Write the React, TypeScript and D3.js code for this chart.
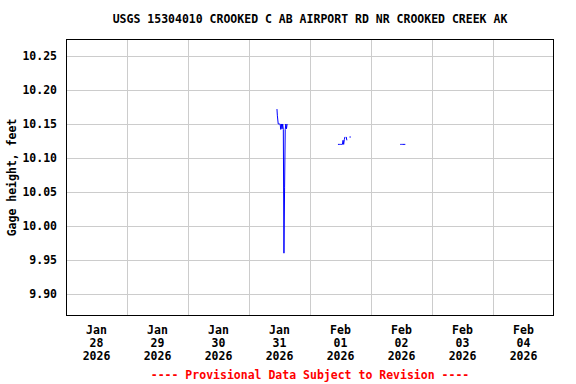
import React from "react";
import * as d3 from "d3";

const TITLE = "USGS 15304010 CROOKED C AB AIRPORT RD NR CROOKED CREEK AK";
const Y_LABEL = "Gage height, feet";
const FOOTER = "---- Provisional Data Subject to Revision ----";

const yTicks = [9.9, 9.95, 10.0, 10.05, 10.1, 10.15, 10.2, 10.25];
const xTickDays = ["2026-01-28", "2026-01-29", "2026-01-30", "2026-01-31", "2026-02-01", "2026-02-02", "2026-02-03", "2026-02-04"];
const xTickMonths = ["Jan", "Jan", "Jan", "Jan", "Feb", "Feb", "Feb", "Feb"];
const xTickDayNums = ["28", "29", "30", "31", "01", "02", "03", "04"];
const xTickYears = ["2026", "2026", "2026", "2026", "2026", "2026", "2026", "2026"];

// gage height observations (null = gap)
const obsTimes = [
  "2026-01-31 11:00", "2026-01-31 11:10", "2026-01-31 11:30", "2026-01-31 11:45",
  "2026-01-31 12:00", "2026-01-31 12:15", "2026-01-31 12:30", "2026-01-31 12:45",
  "2026-01-31 13:00", "2026-01-31 13:15", "2026-01-31 13:30", "2026-01-31 13:45",
  "2026-01-31 14:00", "2026-01-31 14:15", "2026-01-31 14:30", "2026-01-31 14:45",
  "2026-01-31 15:00", "2026-01-31 15:15",
  "2026-02-01 11:00", "2026-02-01 11:30", "2026-02-01 12:00", "2026-02-01 12:30",
  "2026-02-01 12:45", "2026-02-01 13:00", "2026-02-01 13:15", "2026-02-01 13:30",
  "2026-02-01 13:45", "2026-02-01 14:00", "2026-02-01 14:15", "2026-02-01 14:30",
  "2026-02-01 14:45", "2026-02-01 15:45", "2026-02-01 16:00",
  "2026-02-02 11:30", "2026-02-02 12:00", "2026-02-02 12:30", "2026-02-02 13:00", "2026-02-02 13:30",
];
const obsValues: (number | null)[] = [
  10.172, 10.162, 10.15, 10.15,
  10.15, 10.15, 10.142, 10.15,
  10.143, 10.15, 10.142, 9.96,
  10.056, 10.142, 10.15, 10.143,
  10.15, null,
  10.12, 10.12, 10.12, 10.12,
  10.12, 10.126, 10.12, 10.127,
  10.131, null, 10.131, 10.126,
  null, 10.131, null,
  10.12, 10.12, 10.12, 10.12, 10.12,
];

const W = 576, H = 384;
const M = { left: 66, right: 554, top: 39, bottom: 316 };
const FONT = "'DejaVu Sans Mono', monospace";

export default function App() {
  const parse = d3.timeParse("%Y-%m-%d %H:%M");
  const pDay = d3.timeParse("%Y-%m-%d");
  const x = d3.scaleTime()
    .domain([pDay("2026-01-28")!, pDay("2026-02-05")!])
    .range([M.left, M.right]);
  const y = d3.scaleLinear().domain([9.8676, 10.275]).range([M.bottom, M.top]);

  const pts = obsTimes.map((t, i) => ({ t: parse(t)!, v: obsValues[i] }));
  const line = d3.line<{ t: Date; v: number | null }>()
    .defined((d) => d.v !== null)
    .x((d) => x(d.t))
    .y((d) => y(d.v as number));

  // isolated points
  const isolated = pts.filter((d, i) =>
    d.v !== null &&
    (i === 0 || pts[i - 1].v === null) &&
    (i === pts.length - 1 || pts[i + 1].v === null));

  const midnights = d3.timeDay.range(pDay("2026-01-29")!, pDay("2026-02-05")!);
  const noonOf = (s: string) => d3.timeHour.offset(pDay(s)!, 12);

  return (
    <svg width={W} height={H} style={{ position: "absolute", left: 0, top: 0, background: "#fff" }}>
      <rect x={0} y={0} width={W} height={H} fill="#fff" />
      <text x={(M.left + M.right) / 2} y={23} textAnchor="middle" fontFamily={FONT} fontWeight="bold" fontSize={11.5} fill="#000">{TITLE}</text>
      {yTicks.map((v) => (
        <g key={v}>
          <line x1={M.left} x2={M.right} y1={Math.round(y(v)) + 0.5} y2={Math.round(y(v)) + 0.5} stroke="#cccccc" strokeWidth={1} />
          <text x={57} y={y(v) + 4} textAnchor="end" fontFamily={FONT} fontWeight="bold" fontSize={11.5} fill="#000">{v.toFixed(2)}</text>
        </g>
      ))}
      {midnights.map((d, i) => (
        <line key={i} x1={Math.round(x(d)) + 0.5} x2={Math.round(x(d)) + 0.5} y1={M.top} y2={M.bottom} stroke="#cccccc" strokeWidth={1} />
      ))}
      {xTickDays.map((s, i) => {
        const cx = x(noonOf(s));
        return (
          <text key={s} x={cx} textAnchor="middle" fontFamily={FONT} fontWeight="bold" fontSize={11.5} fill="#000">
            <tspan x={cx} y={334}>{xTickMonths[i]}</tspan>
            <tspan x={cx} y={347}>{xTickDayNums[i]}</tspan>
            <tspan x={cx} y={360}>{xTickYears[i]}</tspan>
          </text>
        );
      })}
      <path d={line(pts) || ""} fill="none" stroke="#0000ff" strokeWidth={1} />
      {isolated.map((d, i) => (
        <rect key={i} x={x(d.t) - 0.5} y={y(d.v as number) - 0.5} width={1.2} height={1.2} fill="#0000ff" />
      ))}
      <rect x={M.left + 0.5} y={M.top + 0.5} width={M.right - M.left - 1} height={M.bottom - M.top - 1} fill="none" stroke="#000" strokeWidth={1} />
      <text transform={`translate(16,${(M.top + M.bottom) / 2}) rotate(-90)`} textAnchor="middle" fontFamily={FONT} fontWeight="bold" fontSize={11.5} fill="#000">{Y_LABEL}</text>
      <text x={(M.left + M.right) / 2} y={379} textAnchor="middle" fontFamily={FONT} fontWeight="bold" fontSize={11.5} fill="#ff0000">{FOOTER}</text>
    </svg>
  );
}
